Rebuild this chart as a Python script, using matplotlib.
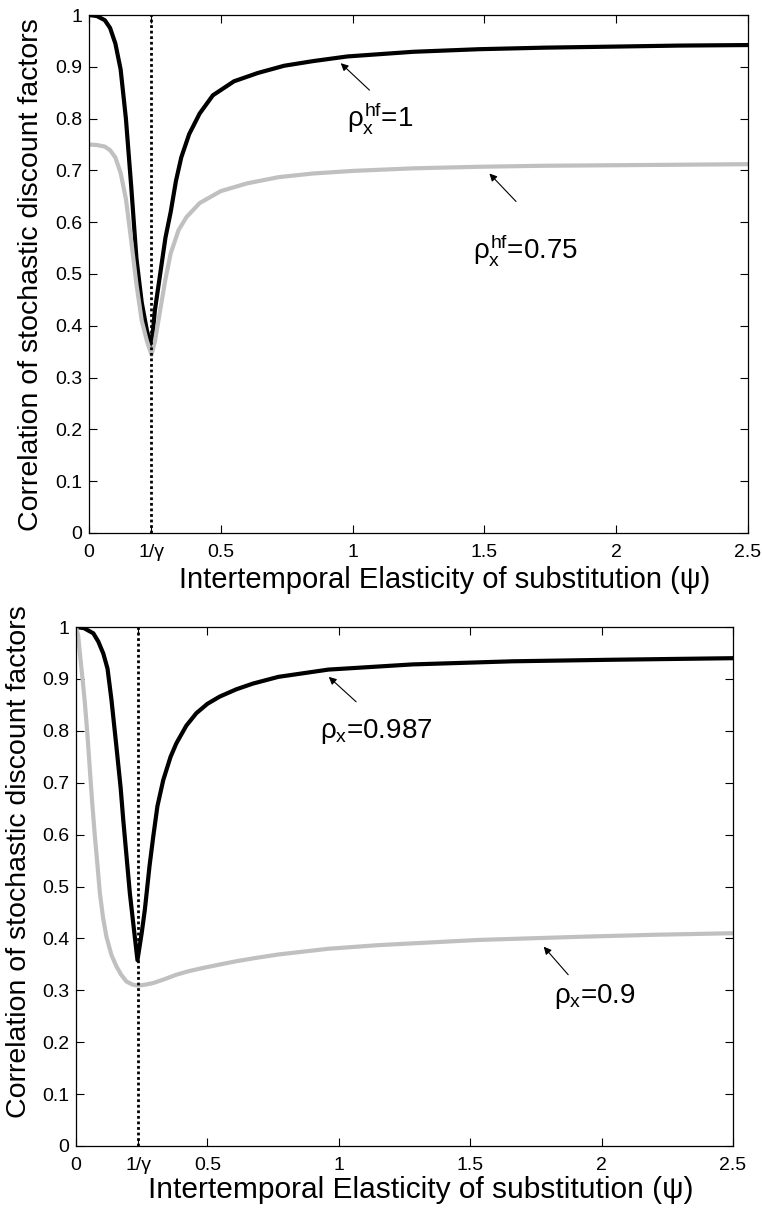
import matplotlib
matplotlib.use('Agg')
from matplotlib import pyplot as plt

plt.rcParams['font.family'] = ['Liberation Sans', 'DejaVu Sans']
plt.rcParams['mathtext.fontset'] = 'custom'
plt.rcParams['mathtext.rm'] = 'Liberation Sans'
plt.rcParams['mathtext.it'] = 'Liberation Sans'
plt.rcParams['mathtext.bf'] = 'Liberation Sans:bold'

inv_gamma = 0.237

# top panel: rho_x^hf = 1 (black) and 0.75 (gray)
top_x_black = [0, 0.03, 0.06, 0.08, 0.10, 0.12, 0.14, 0.16, 0.18, 0.20, 0.22, 0.237,
               0.25, 0.27, 0.29, 0.31, 0.33, 0.35, 0.38, 0.42, 0.47, 0.55, 0.64, 0.74,
               0.85, 0.98, 1.23, 1.48, 1.73, 1.99, 2.24, 2.5]
top_y_black = [1.0, 0.998, 0.99, 0.975, 0.945, 0.895, 0.80, 0.67, 0.53, 0.445, 0.39, 0.36,
               0.43, 0.50, 0.57, 0.62, 0.68, 0.725, 0.77, 0.81, 0.845, 0.872, 0.888, 0.902,
               0.911, 0.920, 0.929, 0.934, 0.937, 0.939, 0.941, 0.942]
top_x_gray = [0, 0.03, 0.06, 0.08, 0.10, 0.12, 0.14, 0.16, 0.18, 0.20, 0.22, 0.237,
              0.25, 0.27, 0.29, 0.31, 0.34, 0.37, 0.42, 0.5, 0.6, 0.72, 0.85, 1.0,
              1.23, 1.48, 1.73, 2.0, 2.25, 2.5]
top_y_gray = [0.75, 0.749, 0.746, 0.739, 0.725, 0.695, 0.645, 0.565, 0.48, 0.41, 0.37, 0.344,
              0.37, 0.43, 0.49, 0.54, 0.585, 0.61, 0.637, 0.66, 0.675, 0.687, 0.694, 0.699,
              0.704, 0.707, 0.709, 0.710, 0.711, 0.712]

# bottom panel: rho_x = 0.987 (black) and 0.9 (gray)
bot_x_black = [0, 0.03, 0.066, 0.085, 0.104, 0.12, 0.135, 0.154, 0.17, 0.18, 0.205, 0.22,
               0.234, 0.25, 0.262, 0.28, 0.294, 0.31, 0.332, 0.36, 0.382, 0.42, 0.458, 0.5,
               0.547, 0.61, 0.673, 0.77, 0.96, 1.28, 1.66, 2.04, 2.5]
bot_y_black = [1.0, 0.998, 0.988, 0.972, 0.949, 0.92, 0.86, 0.769, 0.69, 0.628, 0.487, 0.42,
               0.358, 0.41, 0.455, 0.54, 0.596, 0.655, 0.705, 0.75, 0.776, 0.81, 0.834, 0.852,
               0.866, 0.88, 0.891, 0.904, 0.918, 0.928, 0.934, 0.937, 0.94]
bot_x_gray = [0, 0.008, 0.015, 0.025, 0.034, 0.044, 0.053, 0.062, 0.072, 0.082, 0.091, 0.103,
              0.116, 0.135, 0.154, 0.172, 0.192, 0.215, 0.237, 0.265, 0.294, 0.34, 0.382, 0.43,
              0.483, 0.55, 0.61, 0.68, 0.77, 0.96, 1.15, 1.53, 1.91, 2.2, 2.5]
bot_y_gray = [1.0, 0.985, 0.949, 0.9, 0.853, 0.79, 0.724, 0.66, 0.596, 0.54, 0.487, 0.44,
              0.403, 0.368, 0.346, 0.33, 0.317, 0.311, 0.309, 0.311, 0.314, 0.322, 0.33, 0.337,
              0.343, 0.35, 0.356, 0.362, 0.369, 0.38, 0.387, 0.397, 0.403, 0.407, 0.41]

x_ticks = [0, inv_gamma, 0.5, 1, 1.5, 2, 2.5]
x_ticklabels = ['0', '1/γ', '0.5', '1', '1.5', '2', '2.5']
y_ticks = [0, 0.1, 0.2, 0.3, 0.4, 0.5, 0.6, 0.7, 0.8, 0.9, 1]
y_ticklabels = ['0', '0.1', '0.2', '0.3', '0.4', '0.5', '0.6', '0.7', '0.8', '0.9', '1']

gray = '#c0c0c0'

fig = plt.figure(figsize=(7.62, 12.11), dpi=100)
ax1 = fig.add_axes([0.1168, 0.5599, 0.8648, 0.4277])
ax2 = fig.add_axes([0.0997, 0.0537, 0.8622, 0.4285])


def style(ax, xlab_pos, ylab_pos, xsize):
    ax.set_xlim(0, 2.5)
    ax.set_ylim(0, 1)
    ax.set_xticks(x_ticks)
    ax.set_xticklabels(x_ticklabels)
    ax.set_yticks(y_ticks)
    ax.set_yticklabels(y_ticklabels)
    ax.tick_params(direction='in', top=True, right=True, length=6, width=0.8,
                   labelsize=14)
    ax.tick_params(axis='x', pad=8)
    ax.tick_params(axis='y', pad=5)
    for s in ax.spines.values():
        s.set_linewidth(0.9)
    ax.set_xlabel('Intertemporal Elasticity of substitution (ψ)', fontsize=xsize)
    ax.set_ylabel('Correlation of stochastic discount factors', fontsize=20.5)
    ax.xaxis.set_label_coords(*xlab_pos)
    ax.yaxis.set_label_coords(*ylab_pos)


ax1.plot(top_x_black, top_y_black, color='k', lw=3, solid_joinstyle='round')
ax1.plot(top_x_gray, top_y_gray, color=gray, lw=3, solid_joinstyle='round')
ax1.axvline(inv_gamma, color='k', lw=2, linestyle=(0, (1, 1)))
style(ax1, (0.539, -0.064), (-0.068, 0.498), 21)

ax1.annotate('', xy=(0.955, 0.907), xytext=(1.064, 0.855),
             arrowprops=dict(arrowstyle='-|>', color='k', lw=0.8, mutation_scale=11,
                             shrinkA=0, shrinkB=0))
ax1.text(0.977, 0.784, r'$\rho_{x}^{hf}$=1', fontsize=20, ha='left', va='baseline')
ax1.annotate('', xy=(1.519, 0.694), xytext=(1.62, 0.64),
             arrowprops=dict(arrowstyle='-|>', color='k', lw=0.8, mutation_scale=11,
                             shrinkA=0, shrinkB=0))
ax1.text(1.455, 0.529, r'$\rho_{x}^{hf}$=0.75', fontsize=20, ha='left', va='baseline')

ax2.plot(bot_x_black, bot_y_black, color='k', lw=3, solid_joinstyle='round')
ax2.plot(bot_x_gray, bot_y_gray, color=gray, lw=3, solid_joinstyle='round')
ax2.axvline(inv_gamma, color='k', lw=2, linestyle=(0, (1, 1)))
style(ax2, (0.525, -0.058), (-0.067, 0.547), 21.5)

ax2.annotate('', xy=(0.962, 0.904), xytext=(1.066, 0.856),
             arrowprops=dict(arrowstyle='-|>', color='k', lw=0.8, mutation_scale=11,
                             shrinkA=0, shrinkB=0))
ax2.text(0.929, 0.786, r'$\rho_{x}$=0.987', fontsize=20, ha='left', va='baseline')
ax2.annotate('', xy=(1.78, 0.384), xytext=(1.873, 0.33),
             arrowprops=dict(arrowstyle='-|>', color='k', lw=0.8, mutation_scale=11,
                             shrinkA=0, shrinkB=0))
ax2.text(1.818, 0.276, r'$\rho_{x}$=0.9', fontsize=20, ha='left', va='baseline')

plt.savefig('out.png', dpi=100)
